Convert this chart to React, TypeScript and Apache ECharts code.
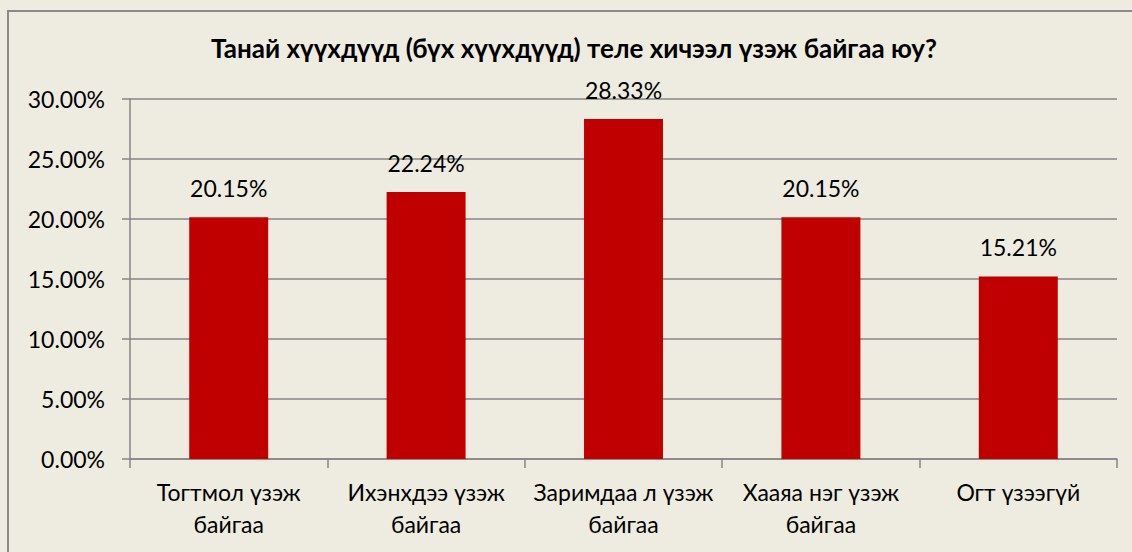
import React, { useEffect, useRef } from "react";
import * as echarts from "echarts";

const title = "Танай хүүхдүүд (бүх хүүхдүүд) теле хичээл үзэж байгаа юу?";
const categories = [
  "Тогтмол үзэж\nбайгаа",
  "Ихэнхдээ үзэж\nбайгаа",
  "Заримдаа л үзэж\nбайгаа",
  "Хааяа нэг үзэж\nбайгаа",
  "Огт үзээгүй",
];
const values = [0.2015, 0.2224, 0.2833, 0.2015, 0.1521];
const yMin = 0;
const yMax = 0.3;
const yInterval = 0.05;

const FONT = "Lato, 'Noto Sans', sans-serif";

export default function App() {
  const ref = useRef<HTMLDivElement>(null);
  useEffect(() => {
    document.body.style.margin = "0";
    const chart = echarts.init(ref.current!, null, { renderer: "svg" });
    chart.setOption({
      animation: false,
      backgroundColor: "#EEECE1",
      textStyle: { fontFamily: FONT },
      title: {
        text: title,
        left: 569,
        textAlign: "center",
        top: 30,
        textStyle: { fontFamily: FONT, fontWeight: "bold", fontSize: 26, color: "#000" },
      },
      graphic: [
        {
          type: "rect",
          shape: { x: 8, y: 11, width: 1200, height: 700 },
          style: { fill: "none", stroke: "#8a8a8a", lineWidth: 2 },
          silent: true,
        },
      ],
      grid: { left: 130, right: 15, top: 99, bottom: 93, containLabel: false },
      xAxis: {
        type: "category",
        data: categories,
        axisLine: { lineStyle: { color: "#868686", width: 1.5 } },
        axisTick: { show: true, length: 9, alignWithLabel: false, lineStyle: { color: "#868686", width: 1.5 } },
        axisLabel: {
          interval: 0,
          margin: 17,
          color: "#000",
          fontFamily: FONT,
          fontSize: 23,
          lineHeight: 32,
        },
      },
      yAxis: {
        type: "value",
        min: yMin,
        max: yMax,
        interval: yInterval,
        axisLine: { show: true, lineStyle: { color: "#868686", width: 1.5 } },
        axisTick: { show: true, length: 8, lineStyle: { color: "#868686", width: 1.5 } },
        splitLine: { show: true, lineStyle: { color: "#868686", width: 1.5 } },
        axisLabel: {
          margin: 25,
          color: "#000",
          fontFamily: FONT,
          fontSize: 23,
          formatter: (v: number) => (v * 100).toFixed(2) + "%",
        },
      },
      series: [
        {
          type: "bar",
          data: values,
          barWidth: "40%",
          itemStyle: { color: "#C00000" },
          label: {
            show: true,
            position: "top",
            distance: 18,
            color: "#000",
            fontFamily: FONT,
            fontSize: 23,
            formatter: (p: any) => (p.value * 100).toFixed(2) + "%",
          },
        },
      ],
    });
    return () => chart.dispose();
  }, []);
  return <div ref={ref} style={{ width: 1132, height: 552 }} />;
}
